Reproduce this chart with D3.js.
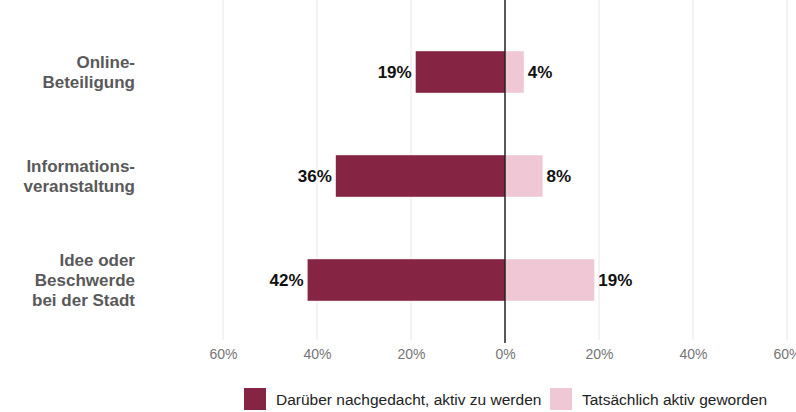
<!DOCTYPE html>
<html>
<head>
<meta charset="utf-8">
<style>
	body { margin: 0; background: #fff; }
	svg { font-family: "Liberation Sans", Arial, sans-serif; }
	.cat { font-weight: bold; fill: #595959; font-size: 17px; }
	.val { font-weight: bold; fill: #111; font-size: 17px; }
	.tick text { fill: #757575; font-size: 14px; }
	.legend text { fill: #222; font-size: 15.5px; }
</style>
<script src="https://cdn.jsdelivr.net/npm/d3@7"></script>
</head>
<body>
<script>
var categories = [["Online-", "Beteiligung"], ["Informations-", "veranstaltung"], ["Idee oder", "Beschwerde", "bei der Stadt"]];
var thought = [19, 36, 42];   // Darüber nachgedacht, aktiv zu werden
var active = [4, 8, 19];      // Tatsächlich aktiv geworden
var seriesNames = ["Darüber nachgedacht, aktiv zu werden", "Tatsächlich aktiv geworden"];
var tickValues = [-60, -40, -20, 0, 20, 40, 60];
var colors = ["#862443", "#f0c7d5"];

var W = 796, H = 412;
var svg = d3.select("body").append("svg").attr("width", W).attr("height", H);

var x = d3.scaleLinear().domain([-60, 60]).range([223, 787]);
var y = d3.scaleBand().domain(d3.range(categories.length)).range([20, 332]).paddingInner(0.6).paddingOuter(0.3);

// grid
svg.append("g").selectAll("line").data(tickValues.filter(function(d) { return d !== 0; }))
	.enter().append("line")
	.attr("x1", function(d) { return x(d); }).attr("x2", function(d) { return x(d); })
	.attr("y1", 0).attr("y2", 340)
	.attr("stroke", "#e6e6e6").attr("stroke-width", 1);

// axis
var axis = svg.append("g").attr("transform", "translate(0,343)")
	.call(d3.axisBottom(x).tickValues(tickValues).tickSize(0).tickPadding(6)
		.tickFormat(function(d) { return Math.abs(d) + "%"; }));
axis.select(".domain").remove();

// bars
var idx = d3.range(categories.length);
svg.append("g").selectAll("rect").data(idx).enter().append("rect")
	.attr("x", function(i) { return x(-thought[i]); })
	.attr("y", function(i) { return y(i); })
	.attr("width", function(i) { return x(0) - x(-thought[i]); })
	.attr("height", y.bandwidth())
	.attr("fill", colors[0]);
svg.append("g").selectAll("rect").data(idx).enter().append("rect")
	.attr("x", x(0))
	.attr("y", function(i) { return y(i); })
	.attr("width", function(i) { return x(active[i]) - x(0); })
	.attr("height", y.bandwidth())
	.attr("fill", colors[1]);

// zero line
svg.append("line").attr("x1", x(0)).attr("x2", x(0)).attr("y1", 0).attr("y2", 343)
	.attr("stroke", "#222").attr("stroke-width", 1.5);

// value labels
svg.append("g").selectAll("text").data(idx).enter().append("text")
	.attr("class", "val")
	.attr("x", function(i) { return x(-thought[i]) - 4; })
	.attr("y", function(i) { return y(i) + y.bandwidth() / 2; })
	.attr("dy", "0.36em").attr("text-anchor", "end")
	.text(function(i) { return thought[i] + "%"; });
svg.append("g").selectAll("text").data(idx).enter().append("text")
	.attr("class", "val")
	.attr("x", function(i) { return x(active[i]) + 4; })
	.attr("y", function(i) { return y(i) + y.bandwidth() / 2; })
	.attr("dy", "0.36em")
	.text(function(i) { return active[i] + "%"; });

// category labels
svg.append("g").selectAll("text").data(idx).enter().append("text")
	.attr("class", "cat")
	.attr("text-anchor", "end")
	.attr("transform", function(i) { return "translate(135," + (y(i) + y.bandwidth() / 2) + ")"; })
	.each(function(i) {
		var lines = categories[i];
		var t = d3.select(this);
		lines.forEach(function(l, k) {
			t.append("tspan").attr("x", 0)
				.attr("y", (k - (lines.length - 1) / 2) * 20)
				.attr("dy", "0.36em")
				.text(l);
		});
	});

// legend
var leg = svg.append("g").attr("class", "legend");
var legX = [244, 550];
seriesNames.forEach(function(n, k) {
	leg.append("rect").attr("x", legX[k]).attr("y", 388).attr("width", 22).attr("height", 22).attr("fill", colors[k]);
	leg.append("text").attr("x", legX[k] + 32).attr("y", 399).attr("dy", "0.36em").text(n);
});
</script>
</body>
</html>
